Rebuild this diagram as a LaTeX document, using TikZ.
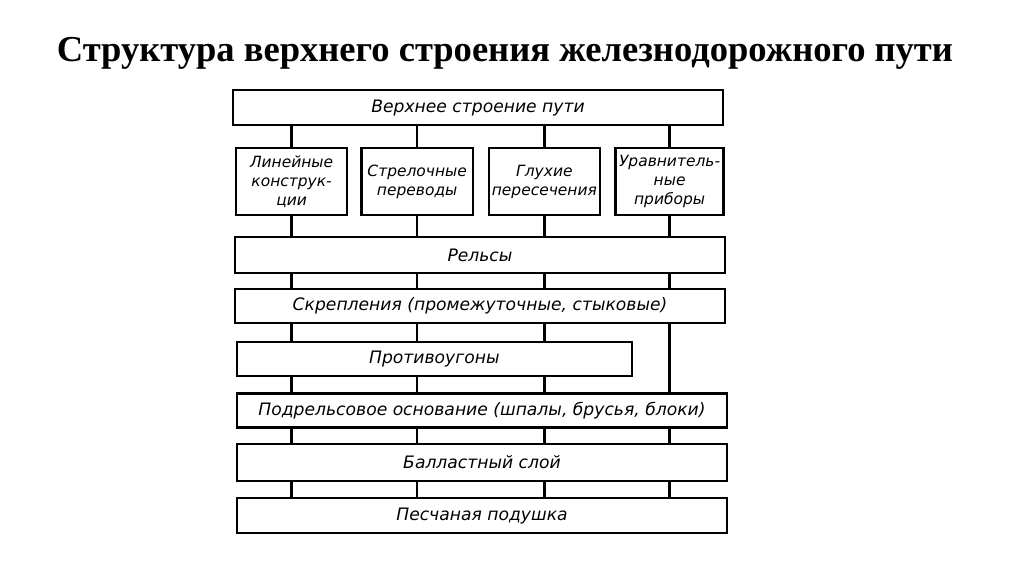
\documentclass[tikz,border=0pt]{standalone}
\usepackage{fontspec}
\setmainfont{Liberation Serif}
\newfontfamily\boxfont{DejaVu Sans}
\usetikzlibrary{positioning}

\begin{document}
\begin{tikzpicture}[main/.style = {draw, line width=1.6pt, rectangle, inner sep=0pt, align=center, font=\boxfont\itshape\fontsize{11}{13.5}\selectfont}, wide/.style = {main, minimum width=12.25cm, font=\boxfont\itshape\fontsize{12.2}{14}\selectfont}] 
      \useasboundingbox (0,0) rectangle (25.6,14.35);
      \node[font=\bfseries\fontsize{26}{30}\selectfont] (0) at (12.625,13.02) {Структура верхнего строения железнодорожного пути};

      \node[wide, minimum height=0.875cm] (1) at (11.95,11.66)  {Верхнее строение пути}; 
      \node[main, minimum width=2.78cm, minimum height=1.675cm] (2) at (7.29,9.81)  {Линейные\\конструк-\\ции}; 
      \node[main, minimum width=2.78cm, minimum height=1.675cm] (3) at (10.43,9.81) {Стрелочные\\переводы};
      \node[main, minimum width=2.78cm, minimum height=1.675cm] (4) at (13.61,9.81) {Глухие\\пересечения};
      \node[main, minimum width=2.7cm, minimum height=1.675cm]  (5) at (16.74,9.81) {Уравнитель-\\ные\\приборы}; 
      \node[wide, minimum height=0.9cm]   (6) at (12.0,7.975)  {Рельсы};   
      \node[wide, minimum height=0.85cm]  (7) at (12.0,6.70)   {Скрепления (промежуточные, стыковые)};   
      \node[main, minimum width=9.875cm, minimum height=0.85cm, font=\boxfont\itshape\fontsize{12.2}{14}\selectfont] (8) at (10.86,5.375) {Противоугоны};  
      \node[wide, minimum height=0.85cm]  (9) at (12.05,4.09)  {Подрельсовое основание (шпалы, брусья, блоки)};        
      \node[wide, minimum height=0.925cm] (10) at (12.05,2.79) {Балластный слой};  
      \node[wide, minimum height=0.875cm] (11) at (12.05,1.46) {Песчаная подушка};  

      \path[-, line width=1.6pt]
      (2.north |- 1.south) edge (2.north)            
      (3.north |- 1.south) edge (3.north)
      (4.north |- 1.south) edge (4.north)
      (5.north |- 1.south) edge (5.north)
      (2.south) edge (2.south |- 6.north)
      (3.south) edge (3.south |- 6.north)
      (4.south) edge (4.south |- 6.north)
      (5.south) edge (5.south |- 6.north)
      (2.south |- 6.south) edge (2.south |- 7.north)
      (3.south |- 6.south) edge (3.south |- 7.north)
      (4.south |- 6.south) edge (4.south |- 7.north)
      (5.south |- 6.south) edge (5.south |- 7.north)
      (2.south |- 7.south) edge (2.south |- 8.north)
      (3.south |- 7.south) edge (3.south |- 8.north)
      (4.south |- 7.south) edge (4.south |- 8.north)
      (5.south |- 7.south) edge (5.south |- 9.north)
      (2.south |- 8.south) edge (2.south |- 9.north)
      (3.south |- 8.south) edge (3.south |- 9.north)
      (4.south |- 8.south) edge (4.south |- 9.north)
      (2.south |- 9.south) edge (2.south |- 10.north)
      (3.south |- 9.south) edge (3.south |- 10.north)
      (4.south |- 9.south) edge (4.south |- 10.north)
      (5.south |- 9.south) edge (5.south |- 10.north)
      (2.south |- 10.south) edge (2.south |- 11.north)
      (3.south |- 10.south) edge (3.south |- 11.north)
      (4.south |- 10.south) edge (4.south |- 11.north)
      (5.south |- 10.south) edge (5.south |- 11.north);
    \end{tikzpicture}
\end{document}
